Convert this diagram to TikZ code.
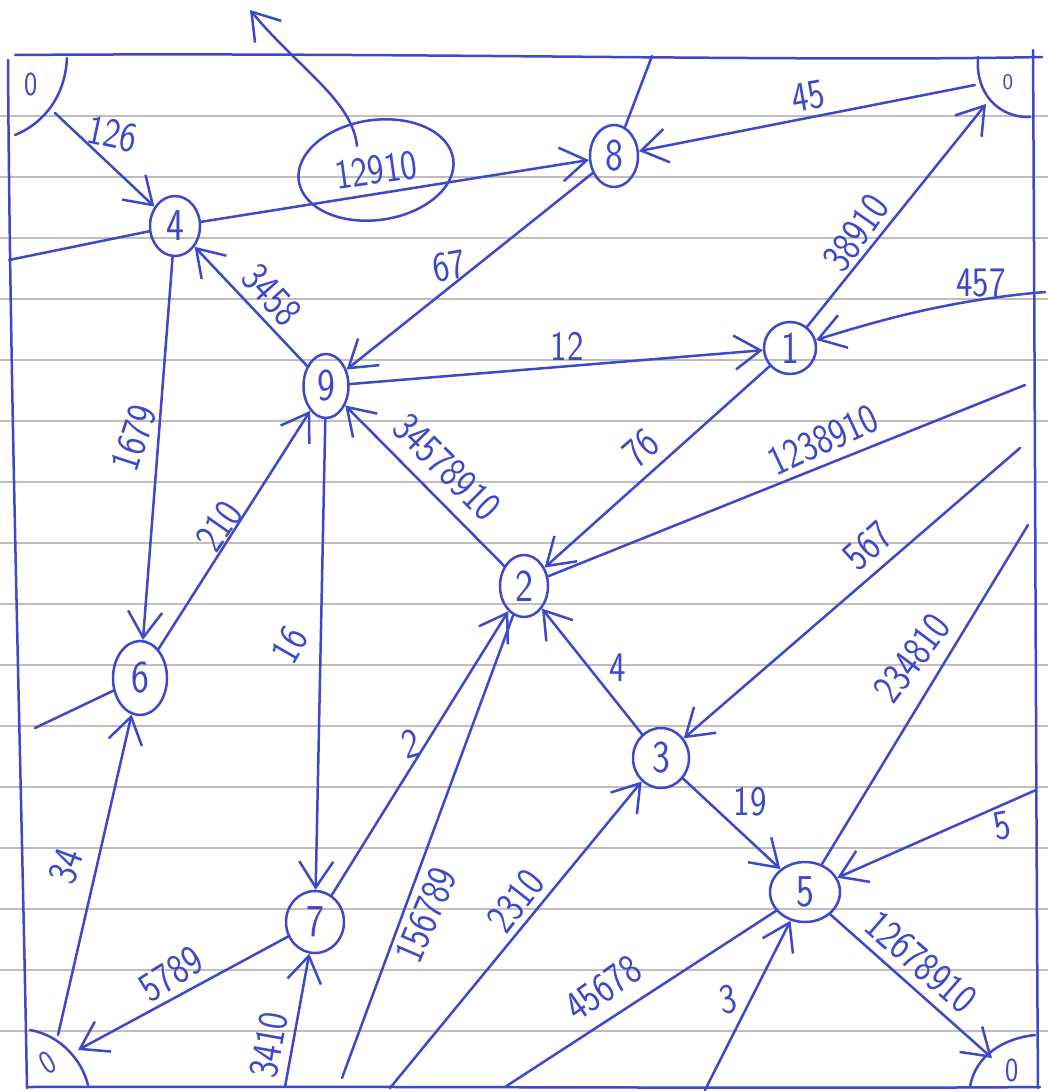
\documentclass[tikz,border=0pt]{standalone}
\usepackage{graphicx}
\usetikzlibrary{arrows.meta,shapes.geometric}
\definecolor{ink}{RGB}{62,72,200}
\definecolor{rule}{RGB}{190,190,190}
\newcommand{\tall}[1]{\scalebox{1}[1.2]{#1}}
\tikzset{
  pen/.style={draw=ink, line width=2.5pt, line cap=round, line join=round},
  arr/.style={pen, -{Straight Barb[length=26pt,width=34pt]}},
  vtx/.style={ellipse, draw=ink, line width=2.5pt, inner sep=0pt, text=ink,
    font=\sffamily\fontsize{38}{38}\selectfont},
  lbl/.style={text=ink, inner sep=0pt, font=\sffamily\fontsize{35}{35}\selectfont},
  zlbl/.style={text=ink, inner sep=0pt, font=\sffamily\fontsize{28}{28}\selectfont},
  paper/.style={draw=rule, line width=1.1pt}
}
\begin{document}
\begin{tikzpicture}[x=1pt,y=-1pt]
\useasboundingbox[fill=white] (0,0) rectangle (1048,1092);
% ruled paper
\foreach \k in {0,...,15} {\draw[paper] (0,116+61*\k) -- (1048,116+61*\k);}
% frame
\draw[pen] (15,55) .. controls (400,52) and (800,62) .. (1042,57);
\draw[pen] (8,60) .. controls (10,400) and (22,800) .. (27,1088);
\draw[pen] (1033,50) .. controls (1035,400) and (1036,800) .. (1038,1088);
\draw[pen] (28,1087) .. controls (400,1086) and (800,1089) .. (1040,1087);
% corner arcs
\draw[pen] (67,58) .. controls (65,100) and (40,125) .. (15,135);
\draw[pen] (978,57) .. controls (975,95) and (1000,118) .. (1030,117);
\draw[pen] (30,1030) .. controls (60,1035) and (82,1060) .. (88,1085);
\draw[pen] (970,1087) .. controls (975,1055) and (1005,1038) .. (1035,1035);
\node[zlbl] (ztl) at (31,84) {\tall{0}};
\node[zlbl] (ztr) at (1008,82) {\scalebox{0.8}{0}};
\node[zlbl,rotate=30] (zbl) at (48,1063) {\tall{0}};
\node[zlbl] (zbr) at (1012,1070) {\tall{0}};
% vertices
\node[vtx, minimum width=50pt, minimum height=60pt] (n4) at (175,226) {\tall{4}};
\node[vtx, minimum width=48pt, minimum height=62pt] (n8) at (614,156) {\tall{8}};
\node[vtx, minimum width=52pt, minimum height=52pt] (n1) at (790,348) {\tall{1}};
\node[vtx, minimum width=45pt, minimum height=64pt] (n9) at (326,386) {\tall{9}};
\node[vtx, minimum width=48pt, minimum height=62pt] (n2) at (524,586) {\tall{2}};
\node[vtx, minimum width=54pt, minimum height=74pt] (n6) at (140,678) {\tall{6}};
\node[vtx, minimum width=56pt, minimum height=60pt] (n3) at (661,758) {\tall{3}};
\node[vtx, minimum width=58pt, minimum height=62pt] (n7) at (315,922) {\tall{7}};
\node[vtx, minimum width=70pt, minimum height=60pt] (n5) at (805,892) {\tall{5}};
% encircled label
\node[ellipse, draw=ink, line width=2.5pt, inner sep=0pt, minimum width=156pt,
  minimum height=100pt, rotate=8, text=ink, font=\sffamily\fontsize{35}{35}\selectfont]
  (e12910) at (376,170) {\tall{12910}};
% free ends
\coordinate (hook) at (357,146);
\coordinate (up) at (250,10);
\coordinate (tl) at (55,113);
\coordinate (top8) at (652,56);
\coordinate (tr) at (975,85);
\coordinate (trin) at (986,104);
\coordinate (r1) at (1045,292);
\coordinate (l4) at (9,260);
\coordinate (r2) at (1025,385);
\coordinate (r3) at (1020,448);
\coordinate (r5) at (1028,525);
\coordinate (r5b) at (1036,790);
\coordinate (br) at (992,1058);
\coordinate (b5) at (705,1090);
\coordinate (b5b) at (505,1087);
\coordinate (b3) at (390,1088);
\coordinate (b2) at (342,1078);
\coordinate (bl) at (78,1050);
\coordinate (blo) at (58,1035);
\coordinate (b7) at (285,1087);
\coordinate (l6) at (35,728);
% connectors
\draw[arr] (tl) -- (n4);
\draw[arr] (n4) -- (n8);
\draw[arr] (hook) .. controls (352,100) and (300,70) .. (up);
\draw[pen] (n8) -- (top8);
\draw[arr] (tr) -- (n8);
\draw[arr] (n1) -- (trin);
\draw[arr] (r1) .. controls (950,300) and (880,320) .. (n1);
\draw[arr] (n9) -- (n1);
\draw[arr] (n9) -- (n4);
\draw[arr] (n8) -- (n9);
\draw[pen] (l4) -- (n4);
\draw[arr] (n4) -- (n6);
\draw[arr] (n6) -- (n9);
\draw[arr] (n9) -- (n7);
\draw[arr] (n2) -- (n9);
\draw[arr] (n1) -- (n2);
\draw[pen] (r2) -- (n2);
\draw[arr] (r3) -- (n3);
\draw[pen] (r5) -- (n5);
\draw[arr] (r5b) -- (n5);
\draw[arr] (n3) -- (n2);
\draw[arr] (n3) -- (n5);
\draw[arr] (n5) -- (br);
\draw[arr] (b5) -- (n5);
\draw[pen] (b5b) -- (n5);
\draw[arr] (b3) -- (n3);
\draw[pen] (b2) -- (n2);
\draw[arr] (n7) -- (bl);
\draw[arr] (blo) -- (n6);
\draw[arr] (b7) -- (n7);
\draw[arr] (n7) -- (n2);
\draw[pen] (l6) -- (n6);
% labels
\node[lbl, rotate=-12] (t126) at (112,134) {\tall{126}};
\node[lbl, rotate=10] (t45) at (808,96) {\tall{45}};
\node[lbl, rotate=55] (t38910) at (856,233) {\tall{38910}};
\node[lbl] (t457) at (981,283) {\tall{457}};
\node[lbl] (t12) at (567,346) {\tall{12}};
\node[lbl, rotate=10] (t67) at (449,266) {\tall{67}};
\node[lbl, rotate=-48] (t3458) at (272,295) {\tall{3458}};
\node[lbl, rotate=72] (t1679) at (134,438) {\tall{1679}};
\node[lbl, rotate=55] (t210) at (219,526) {\tall{210}};
\node[lbl, rotate=60] (t16) at (290,645) {\tall{16}};
\node[lbl, rotate=-45] (t34578910) at (447,467) {\tall{34578910}};
\node[lbl, rotate=40] (t76) at (641,448) {\tall{76}};
\node[lbl, rotate=25] (t1238910) at (823,440) {\tall{1238910}};
\node[lbl, rotate=42] (t567) at (868,546) {\tall{567}};
\node[lbl, rotate=53] (t234810) at (912,658) {\tall{234810}};
\node[lbl] (t4) at (618,668) {\tall{4}};
\node[lbl] (t19) at (750,802) {\tall{19}};
\node[lbl, rotate=10] (t5) at (1002,826) {\tall{5}};
\node[lbl, rotate=-41] (t12678910) at (921,962) {\tall{12678910}};
\node[lbl, rotate=35] (t45678) at (603,988) {\tall{45678}};
\node[lbl, rotate=10] (t3) at (728,999) {\tall{3}};
\node[lbl, rotate=52] (t2310) at (516,901) {\tall{2310}};
\node[lbl, rotate=67] (t156789) at (426,915) {\tall{156789}};
\node[lbl, rotate=15] (t2) at (411,744) {\tall{2}};
\node[lbl, rotate=32] (t5789) at (171,974) {\tall{5789}};
\node[lbl, rotate=70] (t34) at (66,866) {\tall{34}};
\node[lbl, rotate=80] (t3410) at (269,1045) {\tall{3410}};
\end{tikzpicture}
\end{document}
